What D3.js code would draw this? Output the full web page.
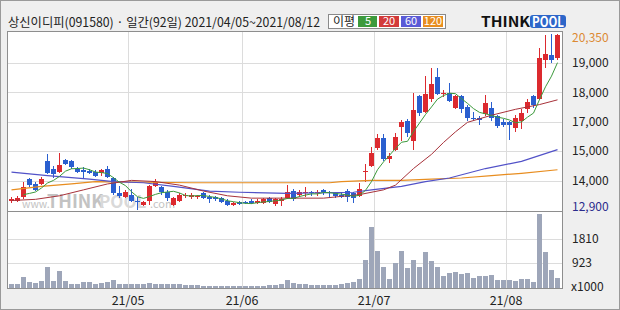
<!DOCTYPE html>
<html>
<head>
<meta charset="utf-8">
<script src="https://cdn.jsdelivr.net/npm/d3@7"></script>
<style>
  body { margin: 0; background: #fff; }
  svg { display: block; }
  text { font-family: "Noto Sans CJK KR", "Noto Sans", sans-serif; }
</style>
</head>
<body>
<div id="chart"></div>
<script>
// 상신이디피(091580) daily candles, 2021/04/05 ~ 2021/08/12 (92 trading days)
const opens = [13300,13300,13450,14200,14000,14000,14950,14650,14500,15000,
  14950,14650,14600,14550,14500,14450,14650,14250,13600,13450,
  13550,13300,13100,13300,13900,13850,13650,13100,13300,13500,
  13450,13450,13600,13450,13450,13400,13300,13100,13250,13250,
  13300,13200,13200,13400,13150,13300,13400,13700,13550,13600,
  13650,13600,13750,13650,13600,13550,13700,13600,13500,14500,
  14750,15500,15950,15050,15450,16400,16650,15800,17700,17050,
  17600,18500,17800,17850,17200,17700,17250,16800,16800,16950,
  17200,16850,16600,16600,16350,16650,17150,17700,17600,19250,
  19450,19300];
const highs = [13450,13500,14100,14250,14100,14300,15250,14750,15300,15050,
  15000,14700,14700,14650,14600,14650,14750,14300,13900,13750,
  13800,13450,13300,13950,14200,13900,13750,13450,13600,13600,
  13600,13550,13650,13550,13500,13450,13350,13250,13300,13300,
  13350,13350,13400,13450,13400,13450,13950,13800,13750,13850,
  13700,13750,13800,13700,13650,13650,13800,13650,14050,14850,
  15550,16100,16100,15300,16150,16700,16750,17850,17750,18550,
  18900,18900,17950,18250,17750,17750,17350,17050,16850,17750,
  17450,16900,16750,16650,16900,17150,17600,17750,19750,20300,
  20350,20350];
const lows = [13200,13250,13350,13850,13700,13950,14400,14250,14450,14800,
  14650,14450,14200,14400,14300,14350,14250,13550,13400,13400,
  13250,12900,13050,13100,13850,13550,13300,13050,13250,13400,
  13350,13350,13350,13200,13300,13200,13050,13050,13100,13150,
  13150,13150,13150,13200,13050,13050,13350,13300,13450,13450,
  13500,13500,13550,13400,13400,13400,13250,13200,13450,14100,
  14700,15450,14950,14900,15400,15800,16000,15450,16850,17000,
  17450,17750,17650,17450,17150,17000,16650,16650,16500,16850,
  16650,16350,16400,15850,16200,16300,17000,17200,17550,18900,
  19100,19250];
const closes = [13350,13400,13850,13950,13750,14200,14450,14400,14800,14850,
  14700,14500,14500,14450,14350,14600,14300,13600,13500,13650,
  13300,13250,13250,13900,14100,13650,13400,13400,13550,13550,
  13550,13500,13400,13350,13350,13250,13100,13200,13150,13200,
  13200,13300,13350,13250,13350,13350,13650,13350,13650,13650,
  13600,13650,13650,13600,13500,13450,13450,13400,13800,14550,
  15300,15950,15050,15200,16000,16600,16150,17100,17000,17800,
  18200,17800,17850,17500,17700,17150,16800,16750,16700,17400,
  16800,16450,16500,16500,16800,17000,17450,17350,19300,19500,
  19250,20300];
// volume, x1000 shares
const volumes = [137,160,420,235,185,270,790,270,640,270,
  160,160,235,235,160,185,210,310,150,137,
  137,160,137,185,137,137,137,137,160,110,
  110,110,85,85,85,85,62,85,62,85,
  85,85,85,110,110,137,310,185,137,137,
  110,110,110,110,110,137,185,210,333,1050,
  2270,1380,790,345,913,1380,750,1050,790,1345,
  1010,790,456,567,605,505,543,383,456,456,
  493,310,310,310,270,320,345,235,2715,1345,
  678,383];

// moving averages as [day index, price]
const ma5Start = 2;
const ma5 = [13550,13600,13660,13830,14040,14150,14320,14540,14640,14650,
  14670,14600,14500,14480,14440,14260,14070,13930,13670,13460,
  13390,13470,13560,13630,13660,13690,13620,13510,13490,13510,
  13510,13470,13430,13370,13290,13250,13210,13180,13170,13210,
  13240,13260,13290,13320,13390,13390,13470,13530,13580,13580,
  13640,13630,13600,13570,13530,13480,13520,13730,14100,14600,
  14930,15210,15500,15760,15800,16210,16570,16930,17250,17580,
  17730,17830,17810,17600,17400,17180,17020,16960,16890,16820,
  16770,16700,16580,16620,16820,16990,17560,18100,18550,19120];
const ma20 = [[0,13300],[4,13350],[8,13500],[12,13750],[16,14000],[20,14150],[24,14100],
  [28,13950],[32,13700],[36,13500],[40,13400],[46,13400],[52,13400],[58,13550],
  [62,13750],[64,13950],[67,14650],[70,15250],[72,15750],[74,16200],[76,16600],
  [80,16900],[84,17150],[88,17350],[91,17550]];
const ma60 = [[0,14500],[6,14350],[13,14200],[17,14100],[22,14050],[27,13900],[33,13700],
  [38,13650],[46,13600],[57,13650],[60,13750],[65,13900],[69,14100],[73,14250],
  [79,14650],[85,14950],[91,15450]];
const ma120 = [[0,13750],[5,13900],[10,14000],[14,14100],[30,14050],[53,14050],[55,14100],
  [60,14150],[65,14150],[70,14200],[75,14250],[80,14350],[85,14450],[91,14600]];

const priceMax = 20350, priceMin = 12900;
const priceTickLabels = ['14,000', '15,000', '17,000', '18,000', '19,000'];
const volTicks = [923, 1810];
const monthStarts = [20, 39, 61, 83];
const monthLabels = ['21/05', '21/06', '21/07', '21/08'];
const maPeriods = ['5', '20', '60', '120'];

// ---- layout
const W = 620, H = 310;
const frame = { left: 7.5, right: 562.5, top: 31.5, priceBottom: 211.5, volBottom: 288.5 };
const colors = {
  up: '#dc2a2f', down: '#2a5fcf', vol: '#9ea6b9', grid: '#dcdcdc', frame: '#8e8e8e',
  ma5: '#3c9a3c', ma20: '#a8323a', ma60: '#5252c8', ma120: '#e88d1f'
};

const svg = d3.select('#chart').append('svg')
  .attr('width', W).attr('height', H);

svg.append('rect')
  .attr('x', 0.5).attr('y', 0.5).attr('width', W - 1).attr('height', H - 1)
  .attr('fill', '#efefef').attr('stroke', '#9a9a9a');

svg.append('rect')
  .attr('x', frame.left).attr('y', frame.top)
  .attr('width', frame.right - frame.left).attr('height', frame.volBottom - frame.top)
  .attr('fill', '#fff');

// scales
const x = d3.scaleBand().domain(d3.range(closes.length)).range([8, 560]).padding(0);
const y = d3.scaleLinear().domain([priceMin, priceMax]).range([210, 33.5]);
const yVol = d3.scaleLinear().domain([0, 2770]).range([288, 213]);
const cx = i => x(i) + 3.5;

// the price panel is split in six equal parts, labels are rounded
const priceGrid = d3.range(1, 6).map(k => priceMin + k * (priceMax - priceMin) / 6);

const grid = svg.append('g').attr('shape-rendering', 'crispEdges').attr('stroke', colors.grid);
grid.selectAll('.hg').data(priceGrid).join('line')
  .attr('x1', frame.left).attr('x2', frame.right)
  .attr('y1', d => Math.round(y(d)) + 0.5).attr('y2', d => Math.round(y(d)) + 0.5);
grid.selectAll('.vg').data(volTicks).join('line')
  .attr('x1', frame.left).attr('x2', frame.right)
  .attr('y1', d => Math.round(yVol(d)) + 0.5).attr('y2', d => Math.round(yVol(d)) + 0.5);
grid.selectAll('.mg').data(monthStarts).join('line')
  .attr('x1', d => x(d) + 0.5).attr('x2', d => x(d) + 0.5)
  .attr('y1', frame.top).attr('y2', frame.volBottom);

// watermark pieces, kept apart by a small gap
const wmParts = [
  { t: 'www.', x: 22, size: 10.5, bold: false, fill: '#c3c3c3' },
  { t: 'THINK', x: 47, size: 18, bold: true, fill: '#c3c3c3' },
  { t: 'POOL', x: 99, size: 17, bold: true, fill: '#d9d9d9' },
  { t: '.com', x: 150, size: 11, bold: false, fill: '#c3c3c3' }
];
svg.append('g').selectAll('text').data(wmParts).join('text')
  .attr('x', d => d.x).attr('y', 208)
  .style('font-size', d => d.size + 'px')
  .style('font-weight', d => d.bold ? 'bold' : 'normal')
  .attr('fill', d => d.fill)
  .text(d => d.t);

// volume bars
svg.append('g').attr('shape-rendering', 'crispEdges')
  .selectAll('rect').data(volumes).join('rect')
  .attr('x', (d, i) => x(i) + 1)
  .attr('width', 5)
  .attr('y', d => yVol(d))
  .attr('height', d => yVol(0) - yVol(d))
  .attr('fill', colors.vol);

// candles
const candles = svg.append('g').attr('shape-rendering', 'crispEdges')
  .selectAll('g').data(closes).join('g')
  .attr('fill', (d, i) => d >= opens[i] ? colors.up : colors.down);
candles.append('rect')
  .attr('x', (d, i) => x(i) + 3)
  .attr('width', 1)
  .attr('y', (d, i) => y(highs[i]))
  .attr('height', (d, i) => Math.max(1, y(lows[i]) - y(highs[i])));
candles.append('rect')
  .attr('x', (d, i) => x(i) + 1)
  .attr('width', 5)
  .attr('y', (d, i) => y(Math.max(d, opens[i])))
  .attr('height', (d, i) => Math.max(1.2, Math.abs(y(d) - y(opens[i]))));

// moving averages
const maLine = d3.line().x(d => cx(d[0])).y(d => y(d[1]));
const maSeries = [
  { pts: ma120, color: colors.ma120, w: 1.2 },
  { pts: ma60, color: colors.ma60, w: 1.2 },
  { pts: ma20, color: colors.ma20, w: 1 },
  { pts: ma5.map((v, k) => [k + ma5Start, v]), color: colors.ma5, w: 1 }
];
svg.append('g').selectAll('path').data(maSeries).join('path')
  .attr('d', d => maLine(d.pts))
  .attr('fill', 'none')
  .attr('stroke', d => d.color)
  .attr('stroke-width', d => d.w);

// frame + panel separator on top
svg.append('rect')
  .attr('x', frame.left).attr('y', frame.top)
  .attr('width', frame.right - frame.left).attr('height', frame.volBottom - frame.top)
  .attr('fill', 'none').attr('stroke', colors.frame);
svg.append('line')
  .attr('x1', frame.left).attr('x2', frame.right)
  .attr('y1', frame.priceBottom).attr('y2', frame.priceBottom)
  .attr('stroke', colors.frame);

// right axis labels
const axis = svg.append('g').style('font-size', '12px').attr('fill', '#222');
axis.selectAll('.pl').data(priceGrid).join('text')
  .attr('x', 572).attr('y', d => y(d)).attr('dy', '0.36em')
  .text((d, i) => priceTickLabels[i]);
axis.append('text').attr('x', 572).attr('y', Math.max(38, y(priceMax))).attr('dy', '0.36em')
  .attr('fill', '#dc8a33').text(d3.format(',')(priceMax));
axis.append('text').attr('x', 572).attr('y', Math.min(207, y(priceMin))).attr('dy', '0.36em')
  .attr('fill', '#2b2b8c').text(d3.format(',')(priceMin));
axis.selectAll('.vl').data(volTicks).join('text')
  .attr('x', 572).attr('y', d => yVol(d)).attr('dy', '0.36em')
  .text(d => d);
axis.append('text').attr('x', 571).attr('y', 287).attr('dy', '0.36em').text('x1000');

// month labels
svg.append('g').style('font-size', '12.5px').attr('fill', '#222')
  .selectAll('text').data(monthStarts).join('text')
  .attr('x', d => x(d)).attr('y', 300).attr('dy', '0.36em')
  .attr('text-anchor', 'middle')
  .text((d, i) => monthLabels[i]);

// title
svg.append('text')
  .attr('x', 8).attr('y', 27)
  .attr('textLength', 312).attr('lengthAdjust', 'spacingAndGlyphs')
  .style('font-size', '12.5px').attr('fill', '#222')
  .text('상신이디피(091580) · 일간(92일) 2021/04/05~2021/08/12');

// MA legend box
const legend = svg.append('g');
legend.append('rect')
  .attr('x', 328.5).attr('y', 14.5).attr('width', 117).attr('height', 14)
  .attr('fill', '#fff').attr('stroke', '#8a8a8a');
legend.append('text').attr('x', 333).attr('y', 26).style('font-size', '12px')
  .attr('fill', '#222').text('이평');
const legendColors = [colors.ma5, '#d23a3a', '#5a5ad6', colors.ma120];
const legendX = [358, 379, 401, 423];
const legendItems = legend.selectAll('.li').data(maPeriods).join('g');
legendItems.append('rect')
  .attr('x', (d, i) => legendX[i]).attr('y', 16)
  .attr('width', (d, i) => i === 0 ? 19 : 20).attr('height', 11)
  .attr('fill', (d, i) => legendColors[i]);
legendItems.append('text')
  .attr('x', (d, i) => legendX[i] + 10).attr('y', 21.5).attr('dy', '0.36em')
  .attr('text-anchor', 'middle').style('font-size', '11px').attr('fill', '#fff')
  .text(d => d);

// THINKPOOL logo
const logo = svg.append('g');
logo.append('text').attr('x', 481).attr('y', 27)
  .attr('textLength', 49).attr('lengthAdjust', 'spacingAndGlyphs')
  .style('font-size', '14px').style('font-weight', 'bold').attr('fill', '#111')
  .text('THINK');
logo.append('rect').attr('x', 530).attr('y', 15).attr('width', 36).attr('height', 13)
  .attr('rx', 3).attr('fill', '#2d66c9');
logo.append('text').attr('x', 548).attr('y', 27)
  .attr('textLength', 32).attr('lengthAdjust', 'spacingAndGlyphs')
  .attr('text-anchor', 'middle')
  .style('font-size', '14px').style('font-weight', 'bold').attr('fill', '#fff')
  .text('POOL');
</script>
</body>
</html>
